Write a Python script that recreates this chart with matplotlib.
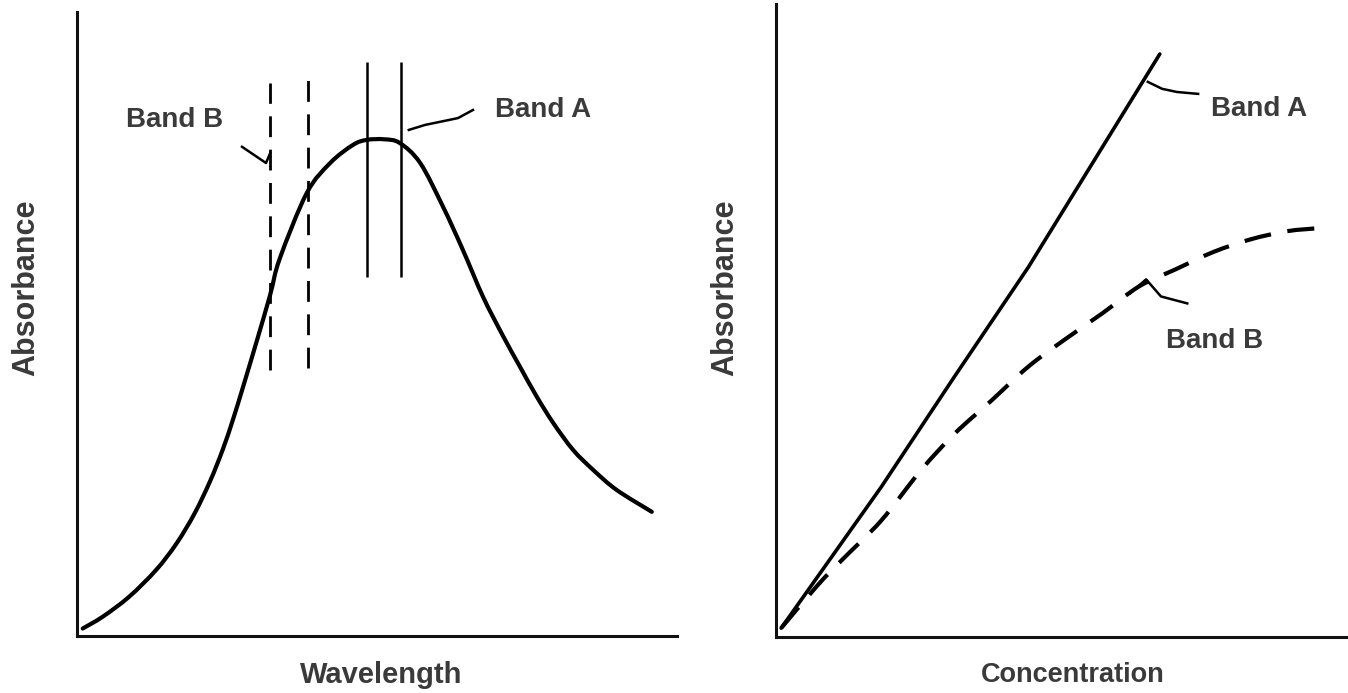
import matplotlib
matplotlib.use("Agg")
import matplotlib.pyplot as plt
from matplotlib.path import Path
from matplotlib.patches import PathPatch

plt.rcParams['font.family'] = ['Liberation Sans', 'DejaVu Sans']

# ---- Left panel: absorption spectrum (arbitrary units 0-100) ----
wavelength = [0.95, 4.3, 8.7, 13.2, 16.6, 19.6, 22.2, 24.3, 26.0, 27.7, 30.0, 32.2,
              33.8, 38.3, 42.2, 46.0, 48.3, 51.2, 53.8, 57.2, 61.0, 64.3, 67.7,
              71.05, 73.8, 76.6, 79.4, 82.7, 86.05, 89.95, 95.8]
absorbance_spec = [1.2, 3.1, 6.3, 10.6, 14.85, 19.65, 24.85, 29.9, 34.7, 40.0, 47.4, 54.7,
                   60.5, 71.0, 75.8, 78.7, 79.5, 79.6, 79.0, 75.8, 68.8, 61.9, 54.3,
                   48.0, 43.2, 38.4, 34.1, 29.8, 26.6, 23.4, 19.9]

band_b_x = [32.2, 38.5]
band_b_lo = [42.6, 42.9]
band_b_hi = [88.6, 89.4]
band_a_x = [48.3, 54.0]
band_a_lo = [57.5, 57.5]
band_a_hi = [92.0, 92.0]

# ---- Right panel: calibration curves ----
conc_a = [0.9, 18.4, 31.1, 44.1, 67.1]
abs_a = [1.4, 23.7, 41.0, 58.4, 92.1]
conc_b = [0.9, 7.3, 11.9, 18.4, 25.3, 31.2, 37.6, 44.1, 50.5, 57.0, 63.5, 69.9,
          76.4, 82.9, 89.3, 95.1]
abs_b = [1.4, 8.2, 12.5, 18.4, 26.3, 32.1, 37.3, 42.7, 47.0, 51.1, 55.4, 58.1,
         60.8, 62.8, 64.1, 64.6]

TXT = '#3a3a3a'
FS = 20


def smooth_path(xs, ys):
    """Bezier path through the given points (Catmull-Rom style rendering)."""
    pts = list(zip(xs, ys))
    n = len(pts)
    verts = [pts[0]]
    codes = [Path.MOVETO]
    for i in range(n - 1):
        p0 = pts[i - 1] if i > 0 else pts[i]
        p1 = pts[i]
        p2 = pts[i + 1]
        p3 = pts[i + 2] if i + 2 < n else pts[i + 1]
        c1 = (p1[0] + (p2[0] - p0[0]) / 6, p1[1] + (p2[1] - p0[1]) / 6)
        c2 = (p2[0] - (p3[0] - p1[0]) / 6, p2[1] - (p3[1] - p1[1]) / 6)
        verts += [c1, c2, p2]
        codes += [Path.CURVE4] * 3
    return Path(verts, codes)


fig = plt.figure(figsize=(13.48, 6.93), dpi=100)
ax1 = fig.add_axes([77 / 1348, 57 / 693, 600 / 1348, 624 / 693])
ax2 = fig.add_axes([776 / 1348, 56 / 693, 572 / 1348, 633 / 693])

for ax in (ax1, ax2):
    ax.set_xlim(0, 100)
    ax.set_ylim(0, 100)
    ax.set_xticks([])
    ax.set_yticks([])
    for s in ('top', 'right'):
        ax.spines[s].set_visible(False)
    for s in ('left', 'bottom'):
        ax.spines[s].set_linewidth(2.2)
        ax.spines[s].set_color('#111111')
    ax.patch.set_alpha(0)

# Left panel
ax1.add_patch(PathPatch(smooth_path(wavelength, absorbance_spec), fill=False,
                        edgecolor='black', lw=3.0, capstyle='round'))
ax1.vlines(band_b_x, band_b_lo, band_b_hi, colors='black', lw=2.0,
           linestyles=(0, (7.5, 4.5)))
ax1.vlines(band_a_x, band_a_lo, band_a_hi, colors='black', lw=1.8)
ax1.plot([27.5, 31.5, 32.2], [78.4, 75.8, 77.4], color='black', lw=1.8)
ax1.plot([55.3, 58.0, 60.5, 63.5, 66.0], [81.1, 81.9, 82.4, 83.0, 84.3],
         color='black', lw=1.8)
ax1.text(16.3, 82.7, 'Band B', fontsize=FS, fontweight='bold', color=TXT,
         ha='center', va='center')
ax1.text(77.7, 84.3, 'Band A', fontsize=FS, fontweight='bold', color=TXT,
         ha='center', va='center')
ax1.set_xlabel('Wavelength', fontsize=21, fontweight='bold', color=TXT, va='center')
ax1.xaxis.set_label_coords(0.507, -0.0625)
ax1.set_ylabel('Absorbance', fontsize=22, fontweight='bold', color=TXT, va='center')
ax1.yaxis.set_label_coords(-0.085, 0.5577)

# Right panel
ax2.plot(conc_a, abs_a, color='black', lw=2.6, solid_capstyle='round')
ax2.add_patch(PathPatch(smooth_path(conc_b, abs_b), fill=False, edgecolor='black',
                        lw=3.0, linestyle=(0, (6.5, 4.0))))
ax2.plot([65.0, 67.5, 70.1, 73.8], [87.7, 86.6, 86.1, 85.8], color='black', lw=1.8)
ax2.plot([61.9, 64.7, 67.3, 71.9], [54.3, 56.5, 53.8, 52.7], color='black', lw=1.8)
ax2.text(84.4, 83.4, 'Band A', fontsize=FS, fontweight='bold', color=TXT,
         ha='center', va='center')
ax2.text(76.6, 46.7, 'Band B', fontsize=FS, fontweight='bold', color=TXT,
         ha='center', va='center')
ax2.set_xlabel('Concentration', fontsize=19.5, fontweight='bold', color=TXT, va='center')
ax2.xaxis.set_label_coords(0.519, -0.060)
ax2.set_ylabel('Absorbance', fontsize=22, fontweight='bold', color=TXT, va='center')
ax2.yaxis.set_label_coords(-0.0892, 0.5513)

fig.savefig('out.png', dpi=100, facecolor='white')
